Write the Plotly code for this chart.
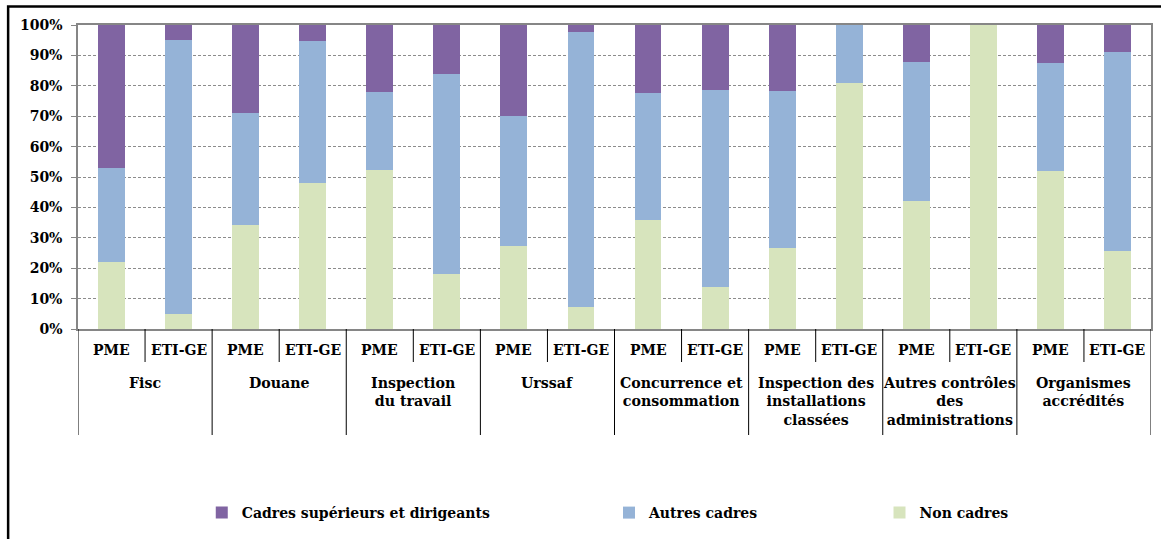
import plotly.graph_objects as go

# ---------------- data ----------------
groups = ["Fisc", "Douane", "Inspection<br>du travail", "Urssaf",
          "Concurrence et<br>consommation", "Inspection des<br>installations<br>classées",
          "Autres contrôles<br>des<br>administrations", "Organismes<br>accrédités"]
sizes = ["PME", "ETI-GE"]

non_cadres = [22.1, 5.0, 34.2, 48.0, 52.2, 18.2, 27.3, 7.2, 36.0, 13.8, 26.6, 80.8, 42.0, 100.0, 51.9, 25.6]
autres_cadres = [31.0, 90.2, 36.9, 46.6, 25.8, 65.8, 42.7, 90.4, 41.7, 64.8, 51.7, 19.2, 45.9, 0.0, 35.7, 65.6]
cadres_sup = [46.9, 4.8, 28.9, 5.4, 22.0, 16.0, 30.0, 2.4, 22.3, 21.4, 21.7, 0.0, 12.1, 0.0, 12.4, 8.8]

series_names = ["Non cadres", "Autres cadres", "Cadres supérieurs et dirigeants"]
series_colors = ["#D7E4BD", "#95B3D7", "#8064A2"]

# ---------------- layout constants ----------------
W, H = 1161, 539
L, R, T, B = 78, 8, 25, 210
plot_w = W - L - R
plot_h = H - T - B
FONT = "DejaVu Serif"
FS = 14

def px_x(p):
    return (p - L) / plot_w

def px_y(p):
    return (H - B - p) / plot_h

x_idx = list(range(len(groups) * len(sizes)))

fig = go.Figure()
legend_ids = {"Non cadres": "legend3", "Autres cadres": "legend2",
              "Cadres supérieurs et dirigeants": "legend"}
for name, vals, col in zip(series_names, [non_cadres, autres_cadres, cadres_sup], series_colors):
    fig.add_trace(go.Bar(x=x_idx, y=vals, name=name, marker_color=col,
                         marker_line_width=0, width=0.4, legend=legend_ids[name]))

# ---------------- category labels & dividers ----------------
annotations = []
shapes = []
for gi, g in enumerate(groups):
    for si, s in enumerate(sizes):
        annotations.append(dict(x=gi * 2 + si, y=0, xref="x", yref="paper", text="<b>%s</b>" % s,
                                showarrow=False, yanchor="middle", yshift=-21,
                                font=dict(family=FONT, size=FS, color="#000")))
    annotations.append(dict(x=gi * 2 + 0.5, y=0, xref="x", yref="paper", text="<b>%s</b>" % g,
                            showarrow=False, yanchor="top", yshift=-44,
                            font=dict(family=FONT, size=14.2, color="#000")))
    shapes.append(dict(type="line", xref="x", yref="paper", x0=gi * 2 + 0.5, x1=gi * 2 + 0.5,
                       y0=0, y1=px_y(362), line=dict(color="#000", width=1)))
for k in range(len(groups) + 1):
    xv = k * 2 - 0.5
    shapes.append(dict(type="line", xref="x", yref="paper", x0=xv, x1=xv,
                       y0=0, y1=px_y(435), line=dict(color="#000", width=1)))

# outer frame
shapes.append(dict(type="rect", xref="paper", yref="paper", x0=px_x(8), x1=px_x(W + 20),
                   y0=px_y(H + 20), y1=px_y(6.5), line=dict(color="#000", width=2.5),
                   fillcolor="rgba(0,0,0,0)", layer="above"))

leg_common = dict(orientation="h", yanchor="middle", xanchor="left", y=px_y(513),
                  font=dict(family=FONT, size=FS, color="#000", weight="bold"),
                  bgcolor="rgba(0,0,0,0)")

fig.update_layout(
    width=W, height=H,
    margin=dict(l=L, r=R, t=T, b=B),
    paper_bgcolor="white", plot_bgcolor="white",
    barmode="stack", bargap=0,
    showlegend=True,
    font=dict(family=FONT, size=FS, color="#000"),
    xaxis=dict(range=[-0.5, 15.5], showticklabels=False, ticks="", showgrid=False,
               showline=True, linecolor="#868686", linewidth=1.5, mirror=True, zeroline=False),
    yaxis=dict(range=[0, 100], dtick=10, ticksuffix="%", showgrid=True, gridcolor="#8C8C8C",
               griddash="3px,2px", gridwidth=1, showline=True, linecolor="#868686", linewidth=1.5,
               mirror=True, ticks="outside", ticklen=5, tickcolor="#868686", zeroline=False,
               ticklabelstandoff=6,
               tickfont=dict(family=FONT, size=FS, color="#000", weight="bold")),
    annotations=annotations,
    shapes=shapes,
    legend=dict(x=px_x(230 - 28), **leg_common),
    legend2=dict(x=px_x(638 - 28), **leg_common),
    legend3=dict(x=px_x(909 - 28), **leg_common),
)

fig.write_html("out.html", config={"displayModeBar": False},
               post_script="document.body.style.margin='0';")
